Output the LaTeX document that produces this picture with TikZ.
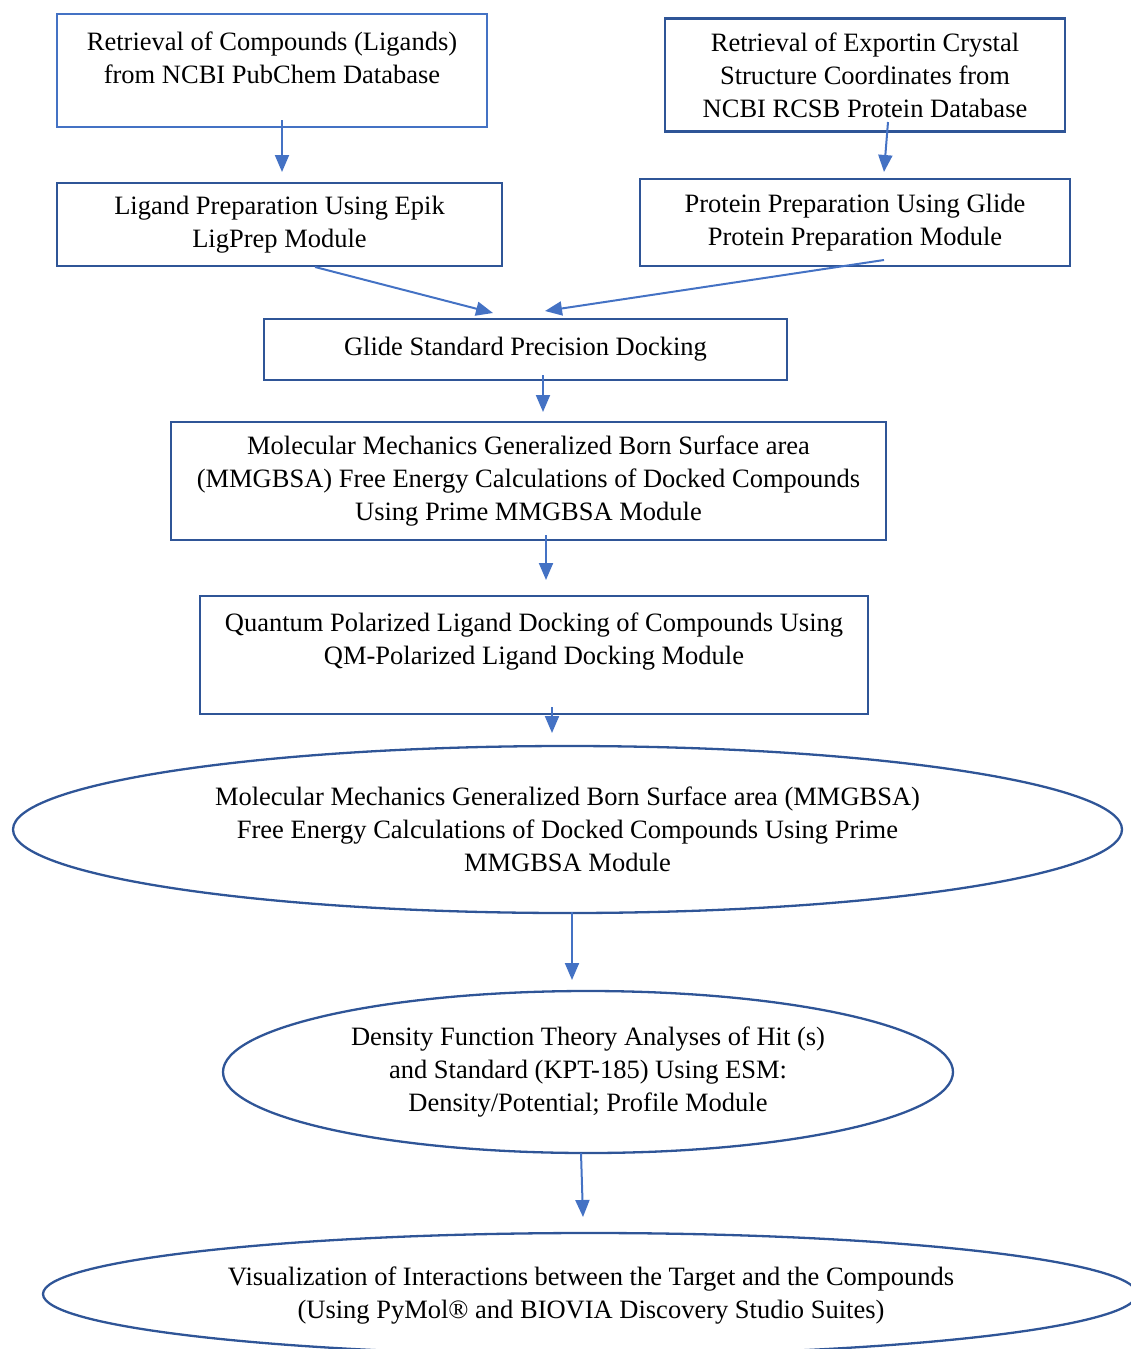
\documentclass[tikz,border=0pt]{standalone}
\usepackage{fontspec}
\setmainfont{Liberation Serif}
\usetikzlibrary{shapes.geometric,arrows.meta}
\definecolor{lightblue}{HTML}{4472C4}
\definecolor{darkblue}{HTML}{2F5597}
\tikzset{
  boxnode/.style={draw=darkblue, line width=2.3pt, rectangle, inner sep=0pt, align=center},
  ellnode/.style={draw=darkblue, line width=2.3pt, ellipse, inner sep=0pt, align=center},
  txtnode/.style={align=center, inner sep=0pt},
  flowarrow/.style={draw=lightblue, line width=2pt, -{Triangle[length=17pt,width=14pt]}}
}
\begin{document}
\begin{tikzpicture}[x=1pt,y=-1pt,font=\fontsize{26.5}{33}\selectfont]
\useasboundingbox (0,0) rectangle (1131,1349);
\clip (0,0) rectangle (1131,1349);
% boxes
\node[boxnode, draw=lightblue, minimum width=430pt, minimum height=113pt] (b1) at (272,70.5) {};
\node[txtnode] (t1) at (272,57.5) {Retrieval of Compounds (Ligands)\\from NCBI PubChem Database};
\node[boxnode, minimum width=400pt, minimum height=113pt] (b2) at (865,75) {Retrieval of Exportin Crystal\\Structure Coordinates from\\NCBI RCSB Protein Database};
\node[boxnode, minimum width=445pt, minimum height=83pt] (b3) at (279.5,224.5) {Ligand Preparation Using Epik\\LigPrep Module};
\node[boxnode, minimum width=430pt, minimum height=87pt] (b4) at (855,222.5) {Protein Preparation Using Glide\\Protein Preparation Module};
\node[boxnode, minimum width=523pt, minimum height=61pt] (b5) at (525.5,349.5) {Glide Standard Precision Docking};
\node[boxnode, minimum width=715pt, minimum height=118pt] (b6) at (528.5,481) {Molecular Mechanics Generalized Born Surface area\\(MMGBSA) Free Energy Calculations of Docked Compounds\\Using Prime MMGBSA Module};
\node[boxnode, minimum width=668pt, minimum height=118pt] (b7) at (534,655) {};
\node[txtnode] (t7) at (534,642) {Quantum Polarized Ligand Docking of Compounds Using\\QM-Polarized Ligand Docking Module};
% ellipses
\node[ellnode, minimum width=1109pt, minimum height=167pt] (e1) at (567.5,829.5) {Molecular Mechanics Generalized Born Surface area (MMGBSA)\\Free Energy Calculations of Docked Compounds Using Prime\\MMGBSA Module};
\node[ellnode, minimum width=730pt, minimum height=162pt] (e2) at (588,1072) {Density Function Theory Analyses of Hit (s)\\and Standard (KPT-185) Using ESM:\\Density/Potential; Profile Module};
\node[ellnode, minimum width=1094pt, minimum height=122pt] (e3) at (590,1294) {};
\node[txtnode] (t9) at (591,1295.5) {Visualization of Interactions between the Target and the Compounds\\(Using PyMol\textregistered{} and BIOVIA Discovery Studio Suites)};
% connector end points
\coordinate (a1s) at (282,120); \coordinate (a1e) at (282,172);
\coordinate (a2s) at (888,122); \coordinate (a2e) at (884,172);
\coordinate (a3s) at (315,267); \coordinate (a3e) at (493,313);
\coordinate (a4s) at (884,260); \coordinate (a4e) at (545,311);
\coordinate (a5s) at (543,375); \coordinate (a5e) at (543,412);
\coordinate (a6s) at (546,535); \coordinate (a6e) at (546,580);
\coordinate (a7s) at (552,707); \coordinate (a7e) at (552,733);
\coordinate (a8s) at (572,912); \coordinate (a8e) at (572,980);
\coordinate (a9s) at (581,1153); \coordinate (a9e) at (583,1217);
\draw[flowarrow] (a1s) -- (a1e);
\draw[flowarrow] (a2s) -- (a2e);
\draw[flowarrow] (a3s) -- (a3e);
\draw[flowarrow] (a4s) -- (a4e);
\draw[flowarrow] (a5s) -- (a5e);
\draw[flowarrow] (a6s) -- (a6e);
\draw[flowarrow] (a7s) -- (a7e);
\draw[flowarrow] (a8s) -- (a8e);
\draw[flowarrow] (a9s) -- (a9e);
\end{tikzpicture}
\end{document}
